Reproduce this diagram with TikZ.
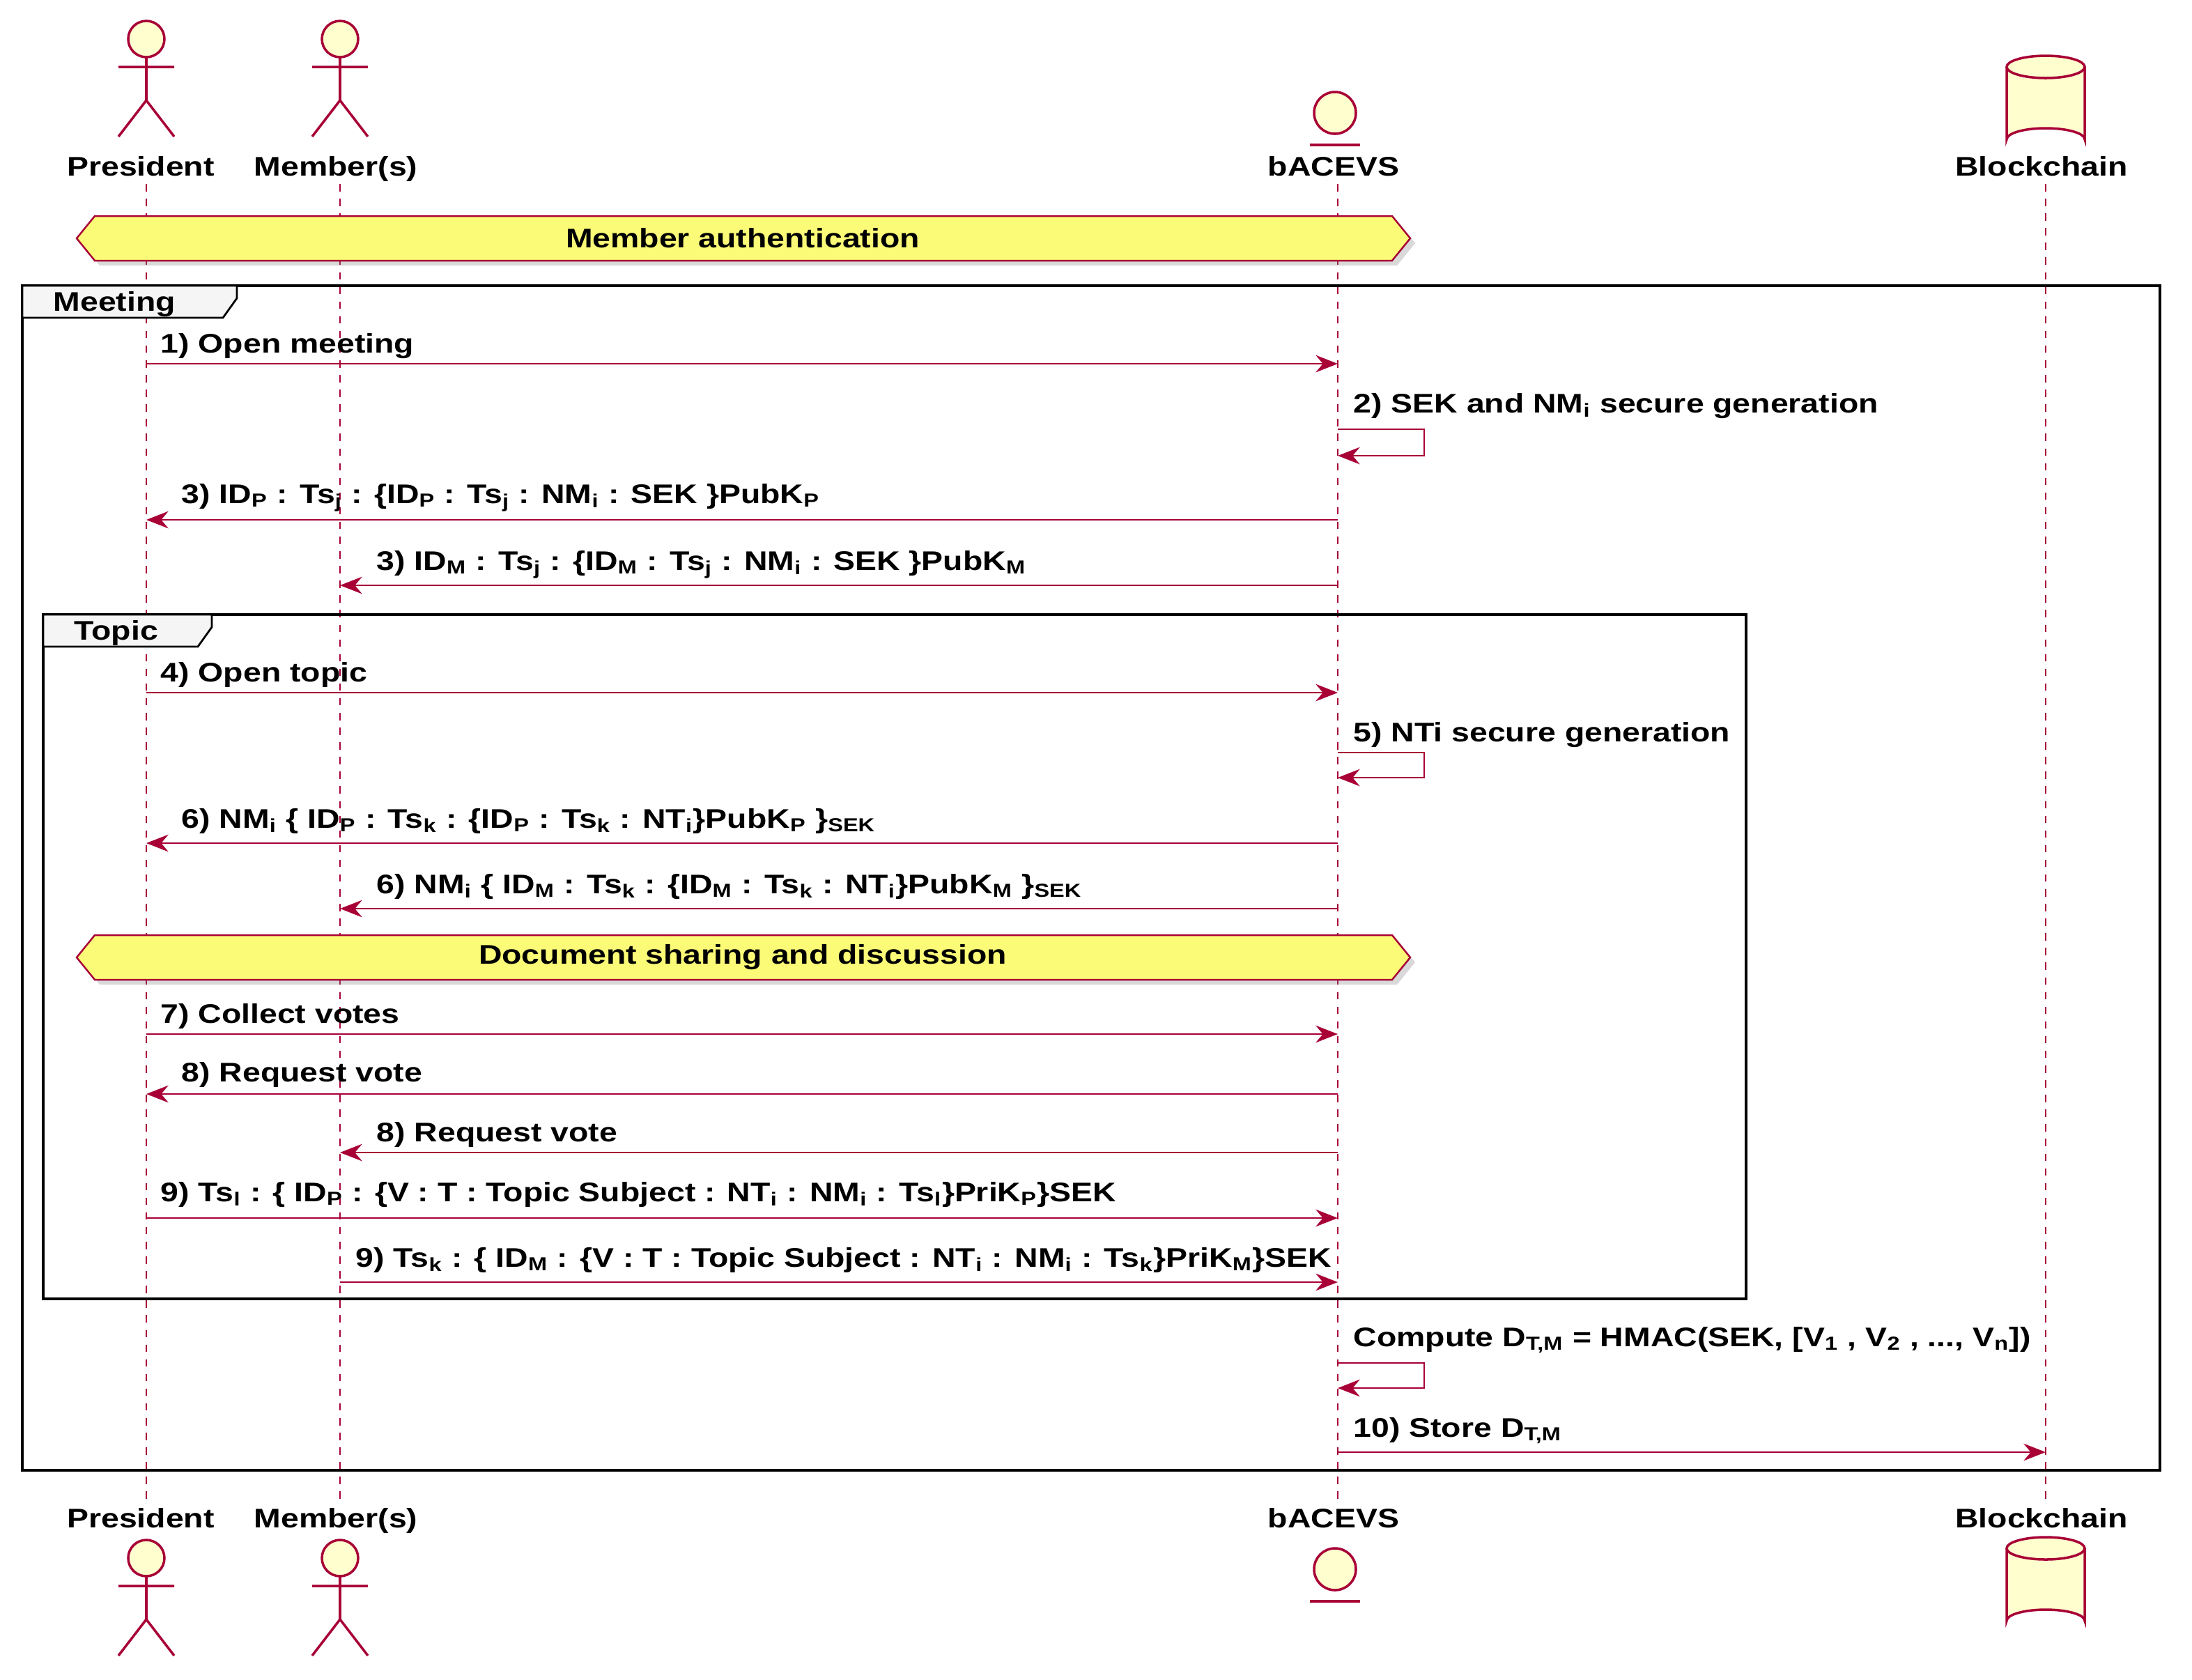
\documentclass[tikz,border=0pt]{standalone}
\usepackage{fontspec}
\setmainfont{Liberation Sans}[FakeStretch=1.2]
\usetikzlibrary{arrows.meta,shapes.geometric,shadows}
\definecolor{pr}{HTML}{A80036}
\definecolor{pf}{HTML}{FEFECE}
\definecolor{hy}{HTML}{FBFB77}
\newcommand{\sbx}[1]{\textsubscript{#1}}
\begin{document}
\begin{tikzpicture}[x=0.02cm,y=-0.02cm,
  font=\fontsize{11}{13}\selectfont\bfseries,
  life/.style={pr,dashed,line width=0.6pt},
  msg/.style={pr,line width=0.8pt,-{Stealth[length=9pt,width=7pt]}},
  lbl/.style={anchor=base west,inner sep=0pt},
  nm/.style={anchor=base,inner sep=0pt},
  act/.style={pr,line width=1pt,fill=pf},
  frm/.style={black,line width=1.3pt},
  hexa/.style={pr,fill=hy,line width=0.7pt,drop shadow={shadow xshift=2pt,shadow yshift=-2pt,opacity=0.3}}]
\useasboundingbox (0,0) rectangle (1573,1205);
% actors
\foreach \x/\t in {105/0,244/0,105/1090,244/1090}{
  \begin{scope}[shift={(\x,\t)}]
  \draw[act] (0,28) circle (13);
  \draw[act] (0,41) -- (0,72) (-20,48) -- (20,48) (0,72) -- (-20,98) (0,72) -- (20,98);
  \end{scope}}
% entity
\foreach \t in {0,1045}{
  \draw[act] (958,81+\t) circle (15);
  \draw[pr,line width=1pt] (940,104+\t) -- (976,104+\t);}
% database
\foreach \t in {0,1063}{
  \draw[act] (1440,48+\t) -- (1440,100+\t) arc[start angle=180,end angle=360,x radius=28,y radius=8] -- (1496,48+\t);
  \draw[act] (1468,48+\t) ellipse (28 and 8);}
% names
\node[nm] (pT) at (101,126) {President};
\node[nm] (mT) at (241,126) {Member(s)};
\node[nm] (bT) at (957,126) {bACEVS};
\node[nm] (cT) at (1465,126) {Blockchain};
\node[nm] (pBt) at (101,1096) {President};
\node[nm] (mBt) at (241,1096) {Member(s)};
\node[nm] (bBt) at (957,1096) {bACEVS};
\node[nm] (cBt) at (1465,1096) {Blockchain};
% lifelines
\coordinate (pS) at (105,132); \coordinate (pE) at (105,1078);
\coordinate (mS) at (244,132); \coordinate (mE) at (244,1078);
\coordinate (bS) at (960,132); \coordinate (bE) at (960,1078);
\coordinate (cS) at (1468,132); \coordinate (cE) at (1468,1078);
\draw[life] (pS)--(pE); \draw[life] (mS)--(mE); \draw[life] (bS)--(bE); \draw[life] (cS)--(cE);
% hexagons
\draw[hexa] (55,171) -- (68,155) -- (999,155) -- (1012,171) -- (999,187) -- (68,187) -- cycle;
\node (h1) at (533,171) {Member authentication};
% frames
\draw[frm] (16,205) rectangle (1550,1055);
\draw[black,line width=0.8pt,fill=gray!8] (16,205) -- (170,205) -- (170,214) -- (160,228) -- (16,228) -- cycle;
\node[lbl] (fm) at (38,223) {Meeting};
\draw[frm] (31,441) rectangle (1253,932);
\draw[black,line width=0.8pt,fill=gray!8] (31,441) -- (152,441) -- (152,450) -- (142,464) -- (31,464) -- cycle;
\node[lbl] (ft) at (53,459) {Topic};
\draw[hexa] (55,687) -- (68,671) -- (999,671) -- (1012,687) -- (999,703) -- (68,703) -- cycle;
\node (h2) at (533,687) {Document sharing and discussion};
% messages
\coordinate (a1) at (105,261); \coordinate (b1) at (960,261);
\draw[msg] (a1) -- (b1); \node[lbl] (l1) at (115,253) {1) Open meeting};
\coordinate (a2) at (960,308); \coordinate (b2) at (960,327);
\draw[msg] (a2) -- (1022,308) -- (1022,327) -- (b2);
\node[lbl] (l2) at (971,296) {2) SEK and NM\sbx{i} secure generation};
\coordinate (a3) at (960,373); \coordinate (b3) at (105,373);
\draw[msg] (a3) -- (b3); \node[lbl] (l3) at (130,361) {3) ID\sbx{P} : Ts\sbx{j} : \{ID\sbx{P} : Ts\sbx{j} : NM\sbx{i} : SEK \}PubK\sbx{P}};
\coordinate (a4) at (960,420); \coordinate (b4) at (244,420);
\draw[msg] (a4) -- (b4); \node[lbl] (l4) at (270,409) {3) ID\sbx{M} : Ts\sbx{j} : \{ID\sbx{M} : Ts\sbx{j} : NM\sbx{i} : SEK \}PubK\sbx{M}};
\coordinate (a5) at (105,497); \coordinate (b5) at (960,497);
\draw[msg] (a5) -- (b5); \node[lbl] (l5) at (115,489) {4) Open topic};
\coordinate (a6) at (960,540); \coordinate (b6) at (960,558);
\draw[msg] (a6) -- (1022,540) -- (1022,558) -- (b6);
\node[lbl] (l6) at (971,532) {5) NTi secure generation};
\coordinate (a7) at (960,605); \coordinate (b7) at (105,605);
\draw[msg] (a7) -- (b7); \node[lbl] (l7) at (130,594) {6) NM\sbx{i} \{ ID\sbx{P} : Ts\sbx{k} : \{ID\sbx{P} : Ts\sbx{k} : NT\sbx{i}\}PubK\sbx{P} \}\sbx{SEK}};
\coordinate (a8) at (960,652); \coordinate (b8) at (244,652);
\draw[msg] (a8) -- (b8); \node[lbl] (l8) at (270,641) {6) NM\sbx{i} \{ ID\sbx{M} : Ts\sbx{k} : \{ID\sbx{M} : Ts\sbx{k} : NT\sbx{i}\}PubK\sbx{M} \}\sbx{SEK}};
\coordinate (a9) at (105,742); \coordinate (b9) at (960,742);
\draw[msg] (a9) -- (b9); \node[lbl] (l9) at (115,734) {7) Collect votes};
\coordinate (a10) at (960,785); \coordinate (b10) at (105,785);
\draw[msg] (a10) -- (b10); \node[lbl] (l10) at (130,776) {8) Request vote};
\coordinate (a11) at (960,827); \coordinate (b11) at (244,827);
\draw[msg] (a11) -- (b11); \node[lbl] (l11) at (270,819) {8) Request vote};
\coordinate (a12) at (105,874); \coordinate (b12) at (960,874);
\draw[msg] (a12) -- (b12); \node[lbl] (l12) at (115,862) {9) Ts\sbx{l} : \{ ID\sbx{P} : \{V : T : Topic Subject : NT\sbx{i} : NM\sbx{i} : Ts\sbx{l}\}PriK\sbx{P}\}SEK};
\coordinate (a13) at (244,920); \coordinate (b13) at (960,920);
\draw[msg] (a13) -- (b13); \node[lbl] (l13) at (255,909) {9) Ts\sbx{k} : \{ ID\sbx{M} : \{V : T : Topic Subject : NT\sbx{i} : NM\sbx{i} : Ts\sbx{k}\}PriK\sbx{M}\}SEK};
\coordinate (a14) at (960,978); \coordinate (b14) at (960,996);
\draw[msg] (a14) -- (1022,978) -- (1022,996) -- (b14);
\node[lbl] (l14) at (971,966) {Compute D\sbx{T,M} = HMAC(SEK, [V\sbx{1} , V\sbx{2} , ..., V\sbx{n}])};
\coordinate (a15) at (960,1042); \coordinate (b15) at (1468,1042);
\draw[msg] (a15) -- (b15); \node[lbl] (l15) at (971,1031) {10) Store D\sbx{T,M}};
\end{tikzpicture}
\end{document}
